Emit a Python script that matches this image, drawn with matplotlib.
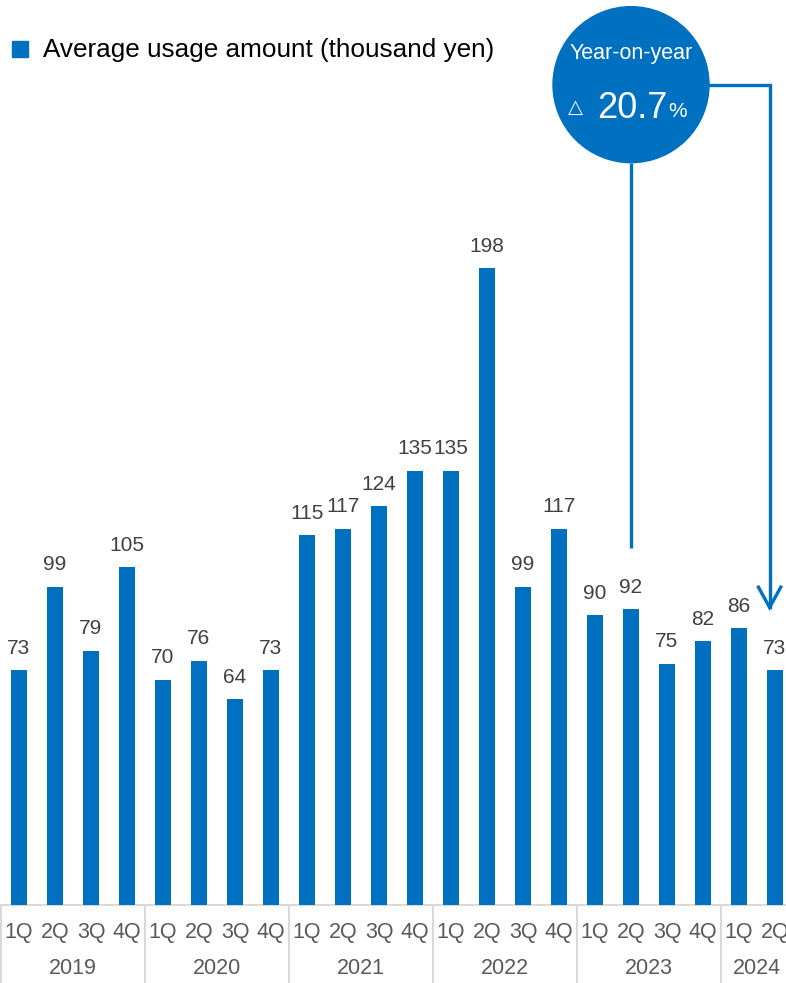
import matplotlib.pyplot as plt
from matplotlib.patches import Ellipse, Rectangle
from matplotlib.transforms import blended_transform_factory

plt.rcParams['font.family'] = ['Liberation Sans', 'DejaVu Sans']

years = ['2019', '2020', '2021', '2022', '2023', '2024']
quarters_per_year = [4, 4, 4, 4, 4, 2]
quarters = ['1Q', '2Q', '3Q', '4Q'] * 5 + ['1Q', '2Q']
usage = [73, 99, 79, 105, 70, 76, 64, 73, 115, 117, 124, 135,
         135, 198, 99, 117, 90, 92, 75, 82, 86, 73]
yoy_text = '20.7'

blue = '#0070C0'
grey_line = '#D9D9D9'

W, H = 786, 983
fig = plt.figure(figsize=(W / 100, H / 100), dpi=100)
base_px = 78
ax = fig.add_axes([0, base_px / H, 1, 1 - base_px / H])

slot = 36.0
px_per_unit = 3.217
ax.set_xlim(-0.5 - 1 / slot, (W - 1) / slot - 0.5)
ax.set_ylim(0, (H - base_px) / px_per_unit)
ax.axis('off')

x = list(range(len(usage)))
ax.bar(x, usage, width=0.42, color=blue, zorder=2)

for xi, v in zip(x, usage):
    ax.annotate(str(v), (xi, v), xytext=(0, 9), textcoords='offset points',
                ha='center', va='bottom', fontsize=15, color='#404040')

# category axis: baseline, group separators, quarter and year labels
trans = blended_transform_factory(ax.transData, ax.transAxes)
ax.plot([-0.5, len(usage) + 1], [0, 0], color=grey_line, lw=1.5,
        clip_on=False, zorder=1)
start = 0
edges = [-0.5]
for yr, n in zip(years, quarters_per_year):
    ax.annotate(yr, (start + (n - 1) / 2, 0), xycoords=trans,
                xytext=(0, -46), textcoords='offset points',
                ha='center', va='center', fontsize=15.5, color='#595959')
    start += n
    edges.append(start - 0.5)
for e in edges:
    ax.plot([e, e], [0, -0.2], transform=trans, color=grey_line, lw=1.5,
            clip_on=False)
for xi, q in zip(x, quarters):
    ax.annotate(q, (xi, 0), xycoords=trans, xytext=(0, -20),
                textcoords='offset points', ha='center', va='center',
                fontsize=15.5, color='#595959')

# legend
fig.add_artist(Rectangle((12 / W, 1 - 57 / H), 16 / W, 16 / H,
                         transform=fig.transFigure, color=blue))
fig.text(43 / W, 1 - 50 / H, 'Average usage amount (thousand yen)',
         fontsize=18.8, color='black', ha='left', va='center')

# year-on-year bubble with connectors
cx, cy = 17, 255
rx, ry = 78 / slot, 78 / px_per_unit
ax.add_patch(Ellipse((cx, cy), 2 * rx, 2 * ry, color=blue, zorder=5,
                     clip_on=False))
ax.text(cx, cy + 0.4 * ry, 'Year-on-year', color='white', fontsize=15.5,
        ha='center', va='center', zorder=6)
ax.text(cx - 1.53, cy - 0.3 * ry, '△', color='white', fontsize=14,
        ha='center', va='center', zorder=6)
ax.text(cx + 0.05, cy - 0.3 * ry, yoy_text, color='white', fontsize=26,
        ha='center', va='center', zorder=6)
ax.text(cx + 1.3, cy - 0.35 * ry, '%', color='white', fontsize=15,
        ha='center', va='center', zorder=6)

ax.plot([cx, cx], [cy - ry, usage[17] + 19], color=blue, lw=2.4,
        solid_capstyle='butt', zorder=4)
arrow_x = 20.85
tip = usage[21] + 19.5
ax.plot([cx + rx * 0.9, arrow_x, arrow_x], [cy, cy, tip],
        color=blue, lw=2.4, solid_joinstyle='miter', zorder=4)
ax.plot([arrow_x - 0.31, arrow_x, arrow_x + 0.31],
        [tip + 6.3, tip, tip + 6.3],
        color=blue, lw=2.4, solid_joinstyle='miter', zorder=4)

fig.savefig('out.png', dpi=100)
